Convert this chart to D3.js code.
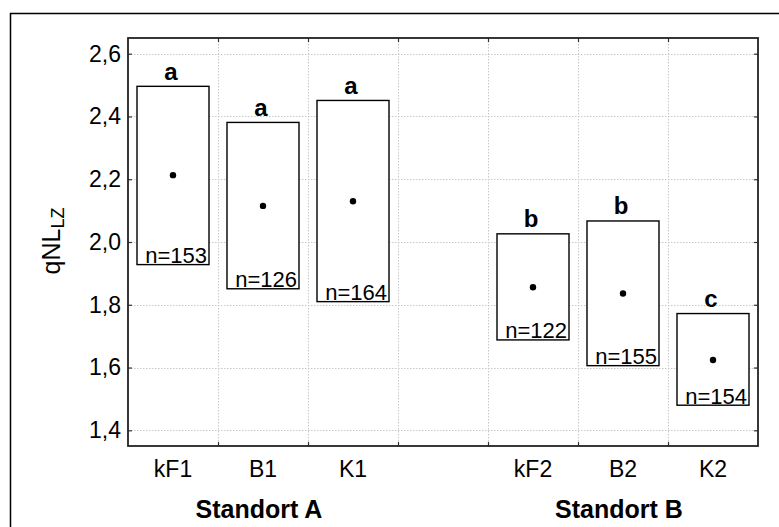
<!DOCTYPE html>
<html>
<head>
<meta charset="utf-8">
<script src="https://cdn.jsdelivr.net/npm/d3@7"></script>
<style>
  body { margin: 0; background: #fff; }
  text { font-family: "Liberation Sans", Arial, sans-serif; fill: #000; }
</style>
</head>
<body>
<div id="chart"></div>
<script>
// data
const categories = ["kF1", "B1", "K1", "", "kF2", "B2", "K2"];
const sites = ["kF1", "B1", "K1", "kF2", "B2", "K2"];
const means = [2.213, 2.115, 2.130, 1.856, 1.836, 1.624];
const upper = [2.496, 2.381, 2.451, 2.026, 2.067, 1.772];
const lower = [1.928, 1.851, 1.810, 1.688, 1.606, 1.480];
const sampleSizes = [153, 126, 164, 122, 155, 154];
const letters = ["a", "a", "a", "b", "b", "c"];
const yTicks = [1.4, 1.6, 1.8, 2.0, 2.2, 2.4, 2.6];
const groups = [
    { label: "Standort A", center: "B1" },
    { label: "Standort B", center: "B2" }
];

const W = 779, H = 527;
const margin = { top: 38, right: 21, bottom: 81, left: 128 },
    width = W - margin.left - margin.right,
    height = H - margin.top - margin.bottom;

const root = d3.select("#chart")
    .append("svg")
    .attr("width", W)
    .attr("height", H);

// outer frame (runs off right and bottom)
root.append("rect")
    .attr("x", 10.5).attr("y", 13.5)
    .attr("width", W + 20).attr("height", H + 20)
    .attr("fill", "none")
    .attr("stroke", "#000")
    .attr("stroke-width", 1.5);

const svg = root.append("g")
    .attr("transform", "translate(" + margin.left + "," + margin.top + ")");

const x = d3.scaleBand()
    .domain(categories)
    .range([0, width])
    .padding(0);

const y = d3.scaleLinear()
    .domain([1.35, 2.65])
    .range([height, 0]);

// grid
svg.append("g")
    .selectAll("line")
    .data(yTicks)
    .join("line")
    .attr("x1", 0).attr("x2", width)
    .attr("y1", d => Math.round(y(d)) + 0.5).attr("y2", d => Math.round(y(d)) + 0.5)
    .attr("stroke", "#c8c8c8")
    .attr("stroke-dasharray", "1.5,1.5");

const bounds = categories.slice(1);
svg.append("g")
    .selectAll("line")
    .data(bounds)
    .join("line")
    .attr("x1", d => Math.round(x(d)) + 0.5).attr("x2", d => Math.round(x(d)) + 0.5)
    .attr("y1", 0).attr("y2", height)
    .attr("stroke", "#c8c8c8")
    .attr("stroke-dasharray", "1.5,1.5");

// boxes
const boxW = x.bandwidth() * 0.8;
const boxes = svg.append("g");
sites.forEach((s, i) => {
    const cx = x(s) + x.bandwidth() / 2;
    boxes.append("rect")
        .attr("x", cx - boxW / 2)
        .attr("y", y(upper[i]))
        .attr("width", boxW)
        .attr("height", y(lower[i]) - y(upper[i]))
        .attr("fill", "#fff")
        .attr("stroke", "#000")
        .attr("stroke-width", 1.4);

    boxes.append("circle")
        .attr("cx", cx)
        .attr("cy", y(means[i]))
        .attr("r", 3.2)
        .attr("fill", "#000");

    boxes.append("text")
        .attr("x", cx + boxW / 2 - 2)
        .attr("y", y(lower[i]) - 1.5)
        .attr("text-anchor", "end")
        .style("font-size", "22px")
        .text("n=" + sampleSizes[i]);

    boxes.append("text")
        .attr("x", cx - 2)
        .attr("y", y(upper[i]) - 6.5)
        .attr("text-anchor", "middle")
        .style("font-size", "24px")
        .style("font-weight", "bold")
        .text(letters[i]);
});

// axes
const yAxis = svg.append("g")
    .call(d3.axisLeft(y).tickValues(yTicks).tickSize(-4).tickPadding(7)
        .tickFormat(d => d3.format(".1f")(d).replace(".", ",")));
yAxis.select(".domain").remove();
yAxis.selectAll("line").attr("stroke", "#333").attr("stroke-width", 1.2);
yAxis.selectAll("text").style("font-size", "23px").attr("font-family", null);

const yRight = svg.append("g")
    .attr("transform", "translate(" + width + ",0)")
    .call(d3.axisRight(y).tickValues(yTicks).tickSize(-4).tickFormat(""));
yRight.select(".domain").remove();
yRight.selectAll("line").attr("stroke", "#333").attr("stroke-width", 1.2);

const xAxis = svg.append("g")
    .attr("transform", "translate(0," + height + ")")
    .call(d3.axisBottom(x).tickSize(0).tickPadding(15));
xAxis.select(".domain").remove();
xAxis.selectAll("text").style("font-size", "23px").attr("font-family", null);

// inward ticks on top and bottom at the band edges
[0, height].forEach(yy => {
    svg.append("g")
        .selectAll("line")
        .data(bounds)
        .join("line")
        .attr("x1", d => Math.round(x(d)) + 0.5).attr("x2", d => Math.round(x(d)) + 0.5)
        .attr("y1", yy).attr("y2", yy === 0 ? 4 : height - 4)
        .attr("stroke", "#333")
        .attr("stroke-width", 1.2);
});

// plot frame
svg.append("rect")
    .attr("x", 0).attr("y", 0)
    .attr("width", width).attr("height", height)
    .attr("fill", "none")
    .attr("stroke", "#222")
    .attr("stroke-width", 1.8);

// group labels
svg.append("g")
    .selectAll("text")
    .data(groups)
    .join("text")
    .attr("x", d => x(d.center) + x.bandwidth() / 2 - 4)
    .attr("y", height + 72)
    .attr("text-anchor", "middle")
    .style("font-size", "25px")
    .style("font-weight", "bold")
    .text(d => d.label);

// y label
const yl = svg.append("text")
    .attr("transform", "translate(" + (60 - margin.left) + "," + (241 - margin.top) + ") rotate(-90)")
    .attr("text-anchor", "middle")
    .style("font-size", "25px");
yl.append("tspan").text("qNL");
yl.append("tspan").attr("dy", 4).style("font-size", "18px").text("LZ");
</script>
</body>
</html>
